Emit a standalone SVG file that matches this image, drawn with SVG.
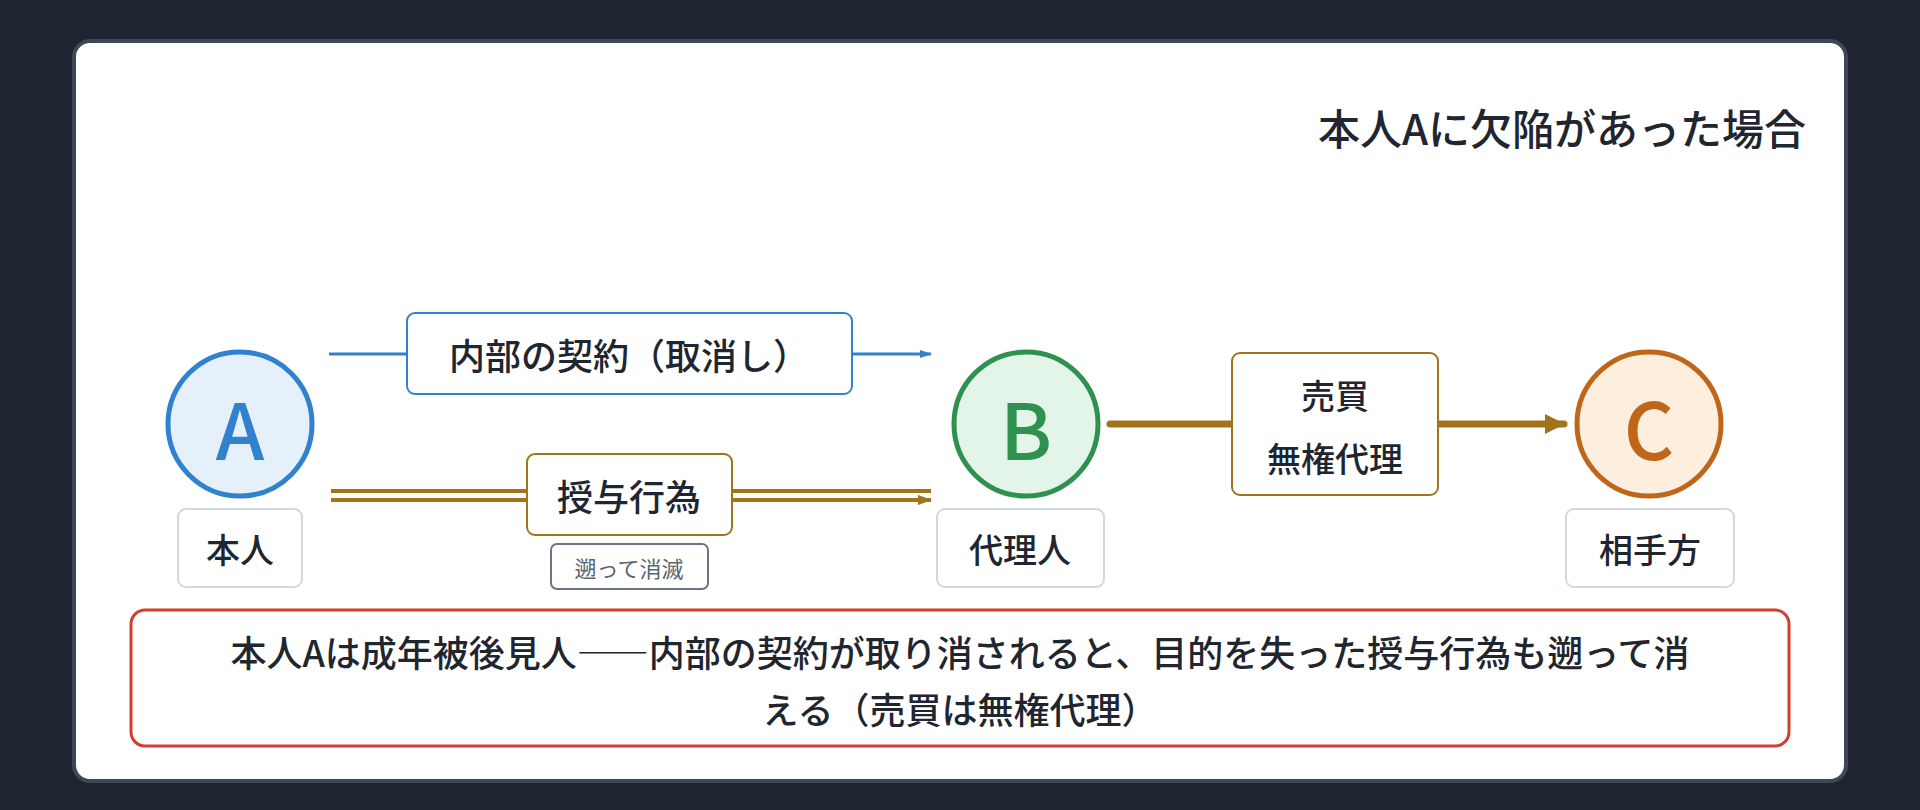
<svg xmlns="http://www.w3.org/2000/svg" width="1920" height="810" viewBox="0 0 1920 810">
<style>
text{font-family:"Noto Sans CJK JP","Noto Sans",sans-serif;fill:#1f2630;text-anchor:middle;dominant-baseline:central}
.lbl{fill:#fff;stroke:#cfd8e3;stroke-width:2}
.big{font-size:78px;font-weight:500}
.t34{font-size:34px;font-weight:500}
</style>
<defs>
<marker id="ab" markerWidth="12" markerHeight="8" refX="11" refY="4" orient="auto" markerUnits="userSpaceOnUse"><path d="M0,0L12,4L0,8z" fill="#3182ce"/></marker>
<marker id="ag" markerWidth="14" markerHeight="10" refX="13" refY="5" orient="auto" markerUnits="userSpaceOnUse"><path d="M0,0L14,5L0,10z" fill="#a0741a"/></marker>
<marker id="ag2" markerWidth="20" markerHeight="20" refX="19" refY="10" orient="auto" markerUnits="userSpaceOnUse"><path d="M0,0L20,10L0,20z" fill="#a0741a"/></marker>
</defs>
<rect width="1920" height="810" fill="#1e2530"/>
<rect x="74" y="41" width="1772" height="740" rx="16" fill="#fff" stroke="#3d4756" stroke-width="4"/>
<text x="1806" y="126" style="font-size:42px;text-anchor:end;font-weight:500">本人Aに欠陥があった場合</text>
<g id="connectors">
<line x1="329" y1="354" x2="931" y2="354" stroke="#3182ce" stroke-width="3" marker-end="url(#ab)"/>
<line x1="331" y1="491" x2="931" y2="491" stroke="#a0741a" stroke-width="4"/>
<line x1="331" y1="500" x2="931" y2="500" stroke="#a0741a" stroke-width="4" marker-end="url(#ag)"/>
<line x1="1110" y1="424" x2="1564" y2="424" stroke="#a0741a" stroke-width="7" stroke-linecap="round" marker-end="url(#ag2)"/>
</g>
<g id="edge-label-contract"><rect x="407" y="313" width="445" height="81" rx="8" fill="#fff" stroke="#3182ce" stroke-width="2"/><text x="629" y="354" style="font-size:36px;font-weight:500">内部の契約（取消し）</text></g>
<g id="edge-label-grant"><rect x="527" y="454" width="205" height="81" rx="8" fill="#fff" stroke="#a0741a" stroke-width="2"/><text x="629" y="495" style="font-size:36px;font-weight:500">授与行為</text>
<rect x="551" y="544" width="157" height="45" rx="6" fill="#fff" stroke="#6b7685" stroke-width="2"/><text x="629" y="567" style="font-size:22px;fill:#5a6473">遡って消滅</text></g>
<g id="edge-label-sale"><rect x="1232" y="353" width="206" height="142" rx="8" fill="#fff" stroke="#a0741a" stroke-width="2"/><text x="1335" y="394" class="t34">売買</text><text x="1335" y="457" class="t34">無権代理</text></g>
<g id="node-A"><circle cx="240" cy="424" r="72" fill="#e6f0fb" stroke="#3182ce" stroke-width="5"/><text x="240" y="426" class="big" style="fill:#3182ce">A</text>
<rect x="178" y="509" width="124" height="78" rx="8" class="lbl"/><text x="240" y="548" class="t34">本人</text></g>
<g id="node-B"><circle cx="1026" cy="424" r="72" fill="#e3f5e8" stroke="#2f9150" stroke-width="5"/><text x="1026" y="426" class="big" style="fill:#2f9150">B</text>
<rect x="937" y="509" width="167" height="78" rx="8" class="lbl"/><text x="1020" y="548" class="t34">代理人</text></g>
<g id="node-C"><circle cx="1649" cy="424" r="72" fill="#fdeedd" stroke="#c0661a" stroke-width="5"/><text x="1649" y="426" class="big" style="fill:#c0661a">C</text>
<rect x="1566" y="509" width="168" height="78" rx="8" class="lbl"/><text x="1650" y="548" class="t34">相手方</text></g>
<g id="note"><rect x="131" y="610" width="1658" height="136" rx="14" fill="#fff" stroke="#d04030" stroke-width="3"/>
<text x="960" y="651" style="font-size:36px;font-weight:500">本人Aは成年被後見人――内部の契約が取り消されると、目的を失った授与行為も遡って消</text>
<text x="960" y="708" style="font-size:36px;font-weight:500">える（売買は無権代理）</text></g>
</svg>
